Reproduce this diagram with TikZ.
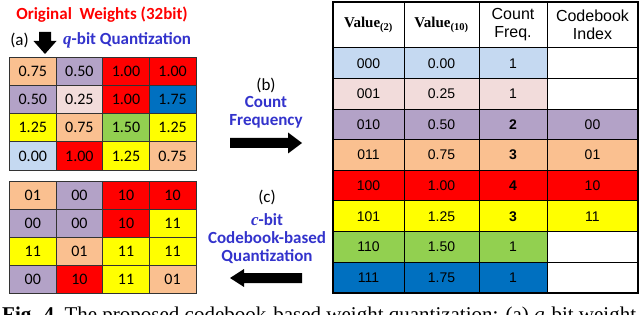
\documentclass[tikz,border=0pt]{standalone}
\usepackage{fontspec}
\newfontfamily\calf{Carlito}
\newfontfamily\arf{Liberation Sans}
\newfontfamily\tmf{Liberation Serif}
\definecolor{cLB}{RGB}{197,217,241}
\definecolor{cPK}{RGB}{242,220,219}
\definecolor{cPU}{RGB}{179,162,199}
\definecolor{cOR}{RGB}{250,192,144}
\definecolor{cRD}{RGB}{255,0,0}
\definecolor{cYE}{RGB}{255,255,0}
\definecolor{cGR}{RGB}{146,208,80}
\definecolor{cBL}{RGB}{0,112,192}
\definecolor{cWH}{RGB}{255,255,255}
\definecolor{tBlue}{RGB}{51,51,204}
\begin{document}
\begin{tikzpicture}[x=1pt,y=-1pt,
  gcell/.style={draw=black!80, line width=0.8pt, text=black, minimum width=46.6pt, minimum height=28pt, inner sep=0pt, font=\calf\fontsize{16}{16}\selectfont},
  tcell/.style={draw=black, line width=1pt, text=black, inner sep=0pt, minimum height=30.6pt, font=\arf\fontsize{14}{14}\selectfont},
  hcell/.style={draw=black, line width=1pt, text=black, inner sep=0pt, minimum height=46pt, align=center},
  blab/.style={text=tBlue, font=\calf\bfseries\fontsize{17}{19}\selectfont, align=center, inner sep=0pt},
  klab/.style={text=black, font=\calf\fontsize{17}{19}\selectfont, inner sep=0pt},
  barrow/.style={fill=black}]
\useasboundingbox (0,0) rectangle (640,315);
\fill[white] (0,0) rectangle (640,315);

% titles
\node[text=red, font=\calf\bfseries\fontsize{17}{19}\selectfont, inner sep=0pt] (title) at (102,15) {Original\ \ Weights (32bit)};
\node[klab] (la) at (19.5,40) {(a)};
\node[blab, anchor=west] (qb) at (63,40) {{\tmf\bfseries\itshape q}-bit Quantization};
\fill[barrow] (39,32) -- (51,32) -- (51,41) -- (56.5,41) -- (45,54) -- (33.5,41) -- (39,41) -- cycle;

% top grid
\foreach \v/\cl [count=\i from 0] in {0.75/cOR,0.50/cPU,1.00/cRD,1.00/cRD,
  0.50/cPU,0.25/cPK,1.00/cRD,1.75/cBL,
  1.25/cYE,0.75/cOR,1.50/cGR,1.25/cYE,
  0.00/cLB,1.00/cRD,1.25/cYE,0.75/cOR}{
  \pgfmathtruncatemacro\cc{mod(\i,4)}
  \pgfmathtruncatemacro\rr{div(\i,4)}
  \node[gcell, fill=\cl, minimum height=28.25pt] (a\i) at ({9.5+46.6*(\cc+0.5)},{57+28.25*(\rr+0.5)}) {\v};
}

% bottom grid
\foreach \v/\cl [count=\i from 0] in {01/cOR,00/cPU,10/cRD,10/cRD,
  00/cPU,00/cPU,10/cRD,11/cYE,
  11/cYE,01/cOR,11/cYE,11/cYE,
  00/cPU,10/cRD,11/cYE,01/cOR}{
  \pgfmathtruncatemacro\cc{mod(\i,4)}
  \pgfmathtruncatemacro\rr{div(\i,4)}
  \node[gcell, fill=\cl] (c\i) at ({9.5+46.6*(\cc+0.5)},{181+28*(\rr+0.5)}) {\v};
}

% middle labels and arrows
\node[klab] (lb) at (266,85) {(b)};
\node[blab] (cf) at (266,112.5) {Count\\[-1pt]Frequency};
\fill[barrow] (230,138) -- (288,138) -- (288,132.5) -- (302,143) -- (288,153.5) -- (288,148) -- (230,148) -- cycle;

\node[klab] (lc) at (267,197) {(c)};
\node[blab] (cb) at (267,238.5) {{\tmf\bfseries\itshape c}-bit\\[-1pt]Codebook-based\\[-1pt]Quantization};
\fill[barrow] (302,273) -- (244,273) -- (244,269) -- (230,278) -- (244,287) -- (244,283) -- (302,283) -- cycle;

% table header
\node[hcell, minimum width=71pt, font=\tmf\bfseries\fontsize{15}{17}\selectfont] (h1) at (368.5,25) {Value\textsubscript{(2)}};
\node[hcell, minimum width=75pt, font=\tmf\bfseries\fontsize{15}{17}\selectfont] (h2) at (441.5,25) {Value\textsubscript{(10)}};
\node[hcell, minimum width=68pt, font=\arf\fontsize{16}{18}\selectfont] (h3) at (513,25) {Count\\Freq.};
\node[hcell, minimum width=91pt, font=\arf\fontsize{16}{18}\selectfont] (h4) at (592.5,25) {Codebook\\Index};

% table rows
\foreach \b/\d/\f/\k/\cl/\kc [count=\i from 0] in {
  000/0.00/1/{}/cLB/cWH,
  001/0.25/1/{}/cPK/cWH,
  010/0.50/\textbf{2}/00/cPU/cPU,
  011/0.75/\textbf{3}/01/cOR/cOR,
  100/1.00/\textbf{4}/10/cRD/cRD,
  101/1.25/\textbf{3}/11/cYE/cYE,
  110/1.50/1/{}/cGR/cWH,
  111/1.75/1/{}/cBL/cWH}{
  \pgfmathsetmacro\yy{48+30.6*(\i+0.5)}
  \node[tcell, fill=\cl, minimum width=71pt] (r\i a) at (368.5,\yy) {\b};
  \node[tcell, fill=\cl, minimum width=75pt] (r\i b) at (441.5,\yy) {\d};
  \node[tcell, fill=\cl, minimum width=68pt] (r\i c) at (513,\yy) {\f};
  \node[tcell, fill=\kc, minimum width=91pt] (r\i d) at (592.5,\yy) {\k};
}
\draw[black, line width=1.2pt] (333,2) rectangle (638,293);

% caption (cut off at the lower edge, as in the reference)
\node[anchor=base west, inner sep=0pt, font=\tmf\fontsize{21}{23}\selectfont] (cap) at (2,321) {\textbf{Fig. 4.}\ The proposed codebook-based weight quantization: (a) \textit{q}-bit weight};
\end{tikzpicture}
\end{document}
